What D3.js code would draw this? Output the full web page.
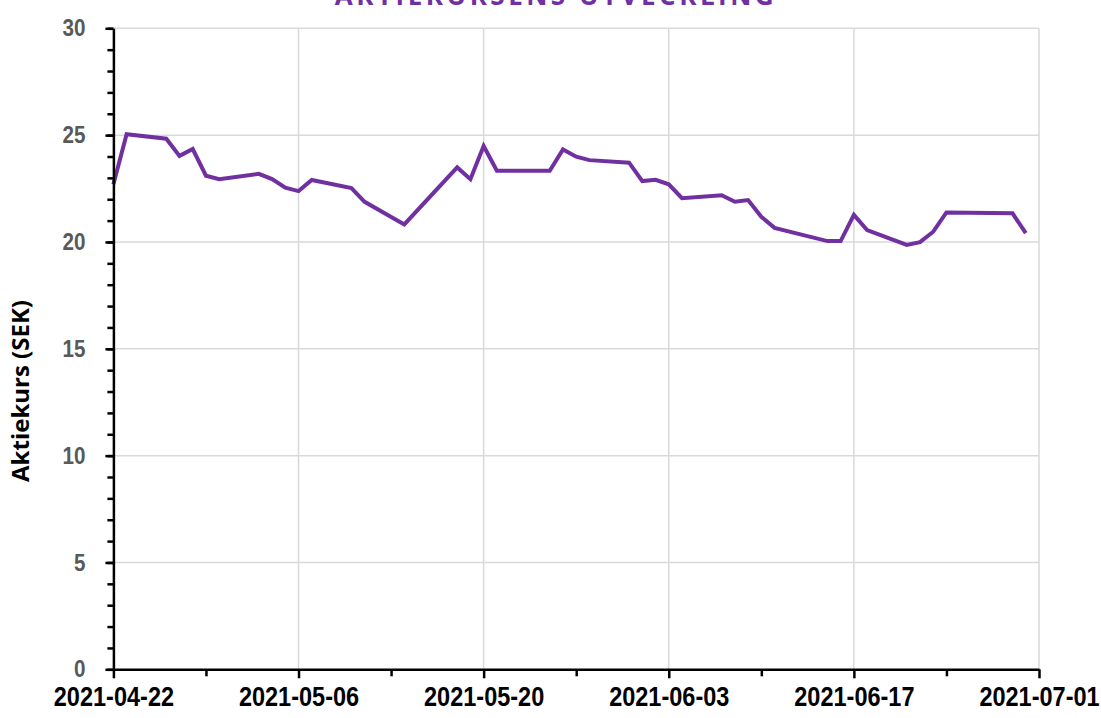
<!DOCTYPE html>
<html>
<head>
<meta charset="utf-8">
<script src="https://cdn.jsdelivr.net/npm/d3@7"></script>
<style>
  body { margin: 0; background: #fff; }
  .tick-label { font-family: "Liberation Sans", Arial, sans-serif; font-weight: bold; }
  .axis-title { font-family: "Open Sans", sans-serif; font-weight: bold; }
</style>
</head>
<body>
<svg id="chart"></svg>
<script>
// trading days and closing price (SEK)
const dates = [
  '2021-04-22','2021-04-23','2021-04-26','2021-04-27','2021-04-28','2021-04-29','2021-04-30',
  '2021-05-03','2021-05-04','2021-05-05','2021-05-06','2021-05-07','2021-05-10','2021-05-11',
  '2021-05-14','2021-05-18','2021-05-19','2021-05-20','2021-05-21','2021-05-25','2021-05-26',
  '2021-05-27','2021-05-28','2021-05-31','2021-06-01','2021-06-02','2021-06-03','2021-06-04',
  '2021-06-07','2021-06-08','2021-06-09','2021-06-10','2021-06-11','2021-06-15','2021-06-16',
  '2021-06-17','2021-06-18','2021-06-21','2021-06-22','2021-06-23','2021-06-24','2021-06-29',
  '2021-06-30'
];
const prices = [
  22.70, 25.04, 24.83, 24.03, 24.35, 23.10, 22.94,
  23.19, 22.94, 22.54, 22.38, 22.90, 22.52, 21.88,
  20.82, 23.49, 22.94, 24.49, 23.33, 23.33, 24.33,
  23.99, 23.83, 23.71, 22.85, 22.91, 22.70, 22.05,
  22.19, 21.88, 21.96, 21.18, 20.66, 20.04, 20.04,
  21.27, 20.56, 19.86, 19.99, 20.48, 21.38, 21.34,
  20.41
];
const xTickLabels = ['2021-04-22','2021-05-06','2021-05-20','2021-06-03','2021-06-17','2021-07-01'];
const xMinorLabels = ['2021-04-29','2021-05-13','2021-05-27','2021-06-10','2021-06-24'];
const yTicks = [0, 5, 10, 15, 20, 25, 30];
const yMinorTicks = d3.range(0, 31);

const title = 'AKTIEKURSENS UTVECKLING';
const yLabel = 'Aktiekurs (SEK)';

class LineChart {
  constructor(_config) {
    this.config = {
      parentElement: _config.parentElement,
      containerWidth: _config.containerWidth || 1101,
      containerHeight: _config.containerHeight || 718,
      lineColor: _config.lineColor || '#7030a0',
      margin: _config.margin || {top: 28.3, right: 62, bottom: 48.7, left: 113.4}
    };
    this.initVis();
  }

  initVis() {
    let vis = this;
    const m = vis.config.margin;
    vis.width = vis.config.containerWidth - m.left - m.right;
    vis.height = vis.config.containerHeight - m.top - m.bottom;

    const parse = d3.utcParse('%Y-%m-%d');
    vis.data = dates.map((d, i) => ({x: parse(d), y: prices[i]}));

    vis.xScale = d3.scaleUtc()
      .domain([parse(xTickLabels[0]), parse(xTickLabels[xTickLabels.length - 1])])
      .range([0, vis.width]);
    vis.yScale = d3.scaleLinear().domain([0, 30]).range([vis.height, 0]);

    vis.svg = d3.select(vis.config.parentElement)
      .attr('width', vis.config.containerWidth)
      .attr('height', vis.config.containerHeight);

    vis.chart = vis.svg.append('g')
      .attr('transform', `translate(${m.left},${m.top})`);

    // gridlines
    vis.chart.append('g').selectAll('line.h')
      .data(yTicks.filter(d => d > 0))
      .join('line')
      .attr('x1', 0).attr('x2', vis.width)
      .attr('y1', d => vis.yScale(d)).attr('y2', d => vis.yScale(d))
      .attr('stroke', '#d9d9d9').attr('stroke-width', 1.5);

    vis.chart.append('g').selectAll('line.v')
      .data(xTickLabels.slice(1).map(parse))
      .join('line')
      .attr('x1', d => vis.xScale(d)).attr('x2', d => vis.xScale(d))
      .attr('y1', 0).attr('y2', vis.height)
      .attr('stroke', '#d9d9d9').attr('stroke-width', 1.5);

    // price line
    vis.line = d3.line()
      .x(d => vis.xScale(d.x))
      .y(d => vis.yScale(d.y));

    vis.chart.append('path')
      .datum(vis.data)
      .attr('fill', 'none')
      .attr('stroke', vis.config.lineColor)
      .attr('stroke-width', 4)
      .attr('stroke-linejoin', 'miter')
      .attr('d', vis.line);

    // y axis: minor then major
    vis.chart.append('g')
      .call(d3.axisLeft(vis.yScale).tickValues(yMinorTicks).tickSize(6).tickSizeOuter(0).tickFormat(''))
      .call(g => g.select('.domain').remove())
      .call(g => g.selectAll('line').attr('stroke', '#000').attr('stroke-width', 2.5));

    vis.yAxisG = vis.chart.append('g')
      .call(d3.axisLeft(vis.yScale).tickValues(yTicks).tickSize(8).tickSizeOuter(0))
      .call(g => g.select('.domain').attr('stroke', '#000').attr('stroke-width', 2.5))
      .call(g => g.selectAll('line').attr('stroke', '#000').attr('stroke-width', 2.5));
    // condensed look: squeeze the labels horizontally
    vis.yAxisG.selectAll('text')
      .attr('class', 'tick-label')
      .attr('fill', '#595959')
      .attr('x', -28 / 0.86)
      .attr('transform', 'scale(0.86,1)')
      .style('font-size', '24px');

    // x axis: minor then major
    vis.chart.append('g')
      .attr('transform', `translate(0,${vis.height})`)
      .call(d3.axisBottom(vis.xScale).tickValues(xMinorLabels.map(parse)).tickSize(7).tickFormat(''))
      .call(g => g.select('.domain').remove())
      .call(g => g.selectAll('line').attr('stroke', '#000').attr('stroke-width', 2.5));

    vis.xAxisG = vis.chart.append('g')
      .attr('transform', `translate(0,${vis.height})`)
      .call(d3.axisBottom(vis.xScale)
        .tickValues(xTickLabels.map(parse))
        .tickSize(9).tickSizeOuter(0).tickPadding(8)
        .tickFormat(d3.utcFormat('%Y-%m-%d')))
      .call(g => g.select('.domain').attr('stroke', '#000').attr('stroke-width', 2.5))
      .call(g => g.selectAll('line').attr('stroke', '#000').attr('stroke-width', 2.5));
    vis.xAxisG.selectAll('text')
      .attr('class', 'tick-label')
      .attr('fill', '#000')
      .attr('transform', 'scale(0.84,1)')
      .style('font-size', '28px');

    // y axis title
    vis.svg.append('text')
      .attr('class', 'axis-title')
      .attr('transform', `translate(29, 391)rotate(-90)`)
      .attr('text-anchor', 'middle')
      .style('font-size', '24px')
      .attr('fill', '#000')
      .text(yLabel);

    // chart title (cut off at the top in the original)
    vis.svg.append('text')
      .attr('class', 'axis-title')
      .attr('x', 556)
      .attr('y', 5)
      .attr('text-anchor', 'middle')
      .style('font-size', '26px')
      .style('letter-spacing', '3.5px')
      .attr('fill', '#7030a0')
      .text(title);
  }
}

new LineChart({parentElement: '#chart'});
</script>
</body>
</html>
